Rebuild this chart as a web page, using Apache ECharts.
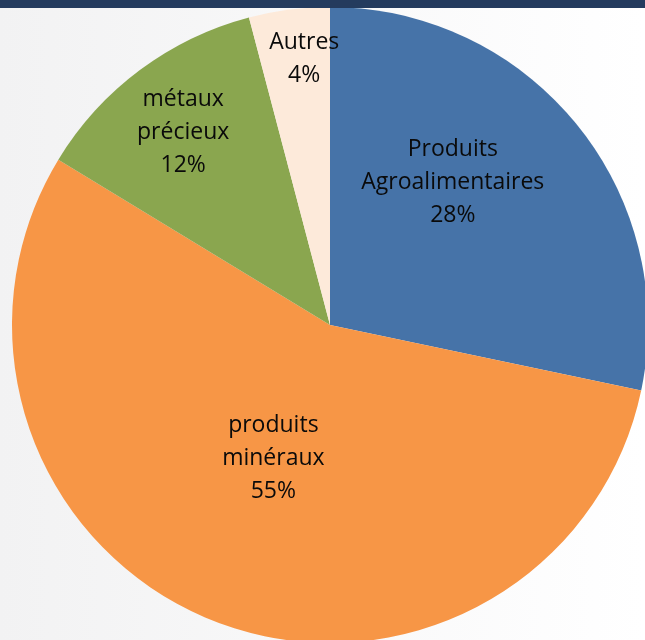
<!DOCTYPE html>
<html>
<head>
<meta charset="utf-8">
<script src="https://cdn.jsdelivr.net/npm/echarts@6/dist/echarts.min.js"></script>
<style>
html,body{margin:0;padding:0;}
#chart{width:645px;height:640px;}
</style>
</head>
<body>
<div id="chart"></div>
<script>
const categories = ['Produits\nAgroalimentaires', 'produits\nminéraux', 'métaux\nprécieux', 'Autres'];
const values = [28.3, 55.4, 12.2, 4.1];
const colors = ['#4673A8', '#F79646', '#8AA64F', '#FDEADA'];
// label nudges from the default inside position (pixels)
const labelShift = [[-3, -40], [3, -17], [-50, -63], [-5, -105]];

const chart = echarts.init(document.getElementById('chart'), null, {renderer: 'canvas'});
chart.setOption({
  animation: false,
  backgroundColor: {
    type: 'linear', x: 0, y: 0, x2: 1, y2: 0,
    colorStops: [{offset: 0, color: '#f2f2f3'}, {offset: 1, color: '#ffffff'}]
  },
  graphic: [{
    type: 'rect', z: 100, left: 0, top: 0,
    shape: {width: 645, height: 8},
    style: {fill: '#243B5E'}
  }],
  series: [{
    type: 'pie',
    center: [330, 325],
    radius: 318,
    startAngle: 90,
    clockwise: true,
    silent: true,
    itemStyle: {borderWidth: 0},
    label: {
      show: true,
      position: 'inside',
      fontFamily: 'Open Sans',
      fontSize: 23,
      lineHeight: 33,
      color: '#0a0a0a',
      align: 'center',
      formatter: p => p.name + '\n' + Math.round(p.value) + '%'
    },
    labelLine: {show: false},
    labelLayout: p => ({dx: labelShift[p.dataIndex][0], dy: labelShift[p.dataIndex][1]}),
    data: categories.map((c, i) => ({name: c, value: values[i], itemStyle: {color: colors[i]}}))
  }]
});
</script>
</body>
</html>
